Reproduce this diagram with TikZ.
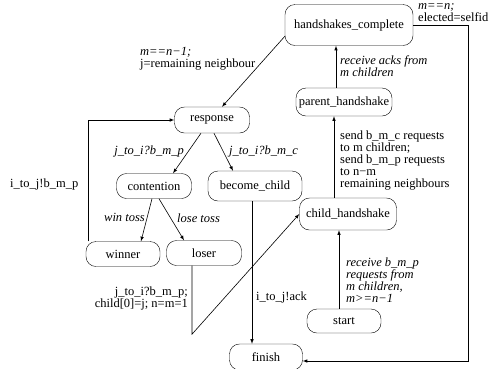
\documentclass[tikz,border=0pt]{standalone}
\usepackage{fontspec}
\setmainfont{Liberation Serif}
\usetikzlibrary{calc}

\begin{document}
\begin{tikzpicture}[x=1pt, y=-1pt]
\tikzstyle{state} = [draw, rounded corners=10pt, minimum height=26pt, inner sep=2pt, font=\fontsize{12.5}{12}\selectfont]
\tikzstyle{lbl}   = [inner sep=0pt, align=left, font=\fontsize{12.5}{12}\selectfont]
\tikzstyle{ilbl}  = [inner sep=0pt, align=left, font=\fontsize{12.5}{12}\selectfont\itshape]
\tikzstyle{trans} = [-latex, line width=0.6pt]
\useasboundingbox (0,0) rectangle (493,368);
\node [state, minimum width=128pt, minimum height=41pt](hc) at (349, 25) {handshakes\_complete};
\node [state, minimum width=96pt, minimum height=28pt](ph) at (344, 102) {parent\_handshake};
\node [state, minimum width=75pt](resp) at (212, 120) {response};
\node [state, minimum width=75pt, minimum height=25pt](cont) at (154, 186) {contention};
\node [state, minimum width=94pt, minimum height=30pt](bc) at (255, 186) {become\_child};
\node [state, minimum width=74pt, minimum height=25pt](win) at (123, 254) {winner};
\node [state, minimum width=75pt, minimum height=25pt](lose) at (204, 253) {loser};
\node [state, minimum width=97pt, minimum height=32pt](ch) at (348, 214) {child\_handshake};
\node [state, minimum width=74pt, minimum height=24pt](st) at (344, 321) {start};
\node [state, minimum width=73pt, minimum height=26pt](fin) at (266, 357) {finish};
\coordinate (rc) at (468, 361);
 %%Transitions
\draw [trans] (hc.190) -- ($(resp.north)+(10,0)$);
\draw [trans] ($(ph.north)+(-8,0)$) -- ($(hc.south)+(-13,0)$);
\draw [trans] ($(ch.north)+(-14,0)$) -- ($(ph.south)+(-10,0)$);
\draw [trans] ($(st.north)+(-5,0)$) -- ($(ch.south)+(-9,0)$);
\draw [trans] ($(resp.south)+(-11,0)$) -- ($(cont.north)+(19,0)$);
\draw [trans] ($(resp.south)+(2,0)$) -- ($(bc.north)+(-22,0)$);
\draw [trans] ($(cont.south)+(-2,0)$) -- ($(win.north)+(18,0)$);
\draw [trans] ($(cont.south)+(5,0)$) -- ($(lose.north)+(-20,0)$);
\draw [trans] ($(win.north west)+(2,0)$) |- (resp.west);
\draw [trans] ($(lose.south)+(-12,0)$) -- ++(0,68.5) -- (ch.west);
\draw [trans] ($(bc.south)+(-3,0)$) -- ($(fin.north)+(-14,0)$);
\draw [trans] (hc.east) -| (rc) -- (rc -| fin.east);
 %%Labels
\node [lbl, anchor=north west](l1) at (140, 47) {\textit{m==n−1;}\\j=remaining neighbour};
\node [ilbl, anchor=north west](l2) at (340, 55) {receive acks from\\m children};
\node [lbl, anchor=north west](l3) at (340, 131) {send b\_m\_c requests\\to m children;\\send b\_m\_p requests\\to n−m\\remaining neighbours};
\node [ilbl, anchor=north west](l4) at (346, 258) {receive b\_m\_p\\requests from\\m children,\\m>=n−1};
\node [ilbl, anchor=north east](l5) at (184, 146) {j\_to\_i?b\_m\_p};
\node [ilbl, anchor=north west](l6) at (229, 146) {j\_to\_i?b\_m\_c};
\node [ilbl, anchor=north east](l7) at (145, 213) {win toss};
\node [ilbl, anchor=north west](l8) at (177, 214) {lose toss};
\node [lbl, anchor=north west](l9) at (10, 179) {i\_to\_j!b\_m\_p};
\node [lbl, anchor=north east, align=right](l10) at (188, 287) {j\_to\_i?b\_m\_p;\\child[0]=j; n=m=1};
\node [lbl, anchor=north west](l11) at (256, 292) {i\_to\_j!ack};
\node [lbl, anchor=north west](l12) at (418, 3) {\textit{m==n;}\\elected=selfid};
\end{tikzpicture}
\end{document}
